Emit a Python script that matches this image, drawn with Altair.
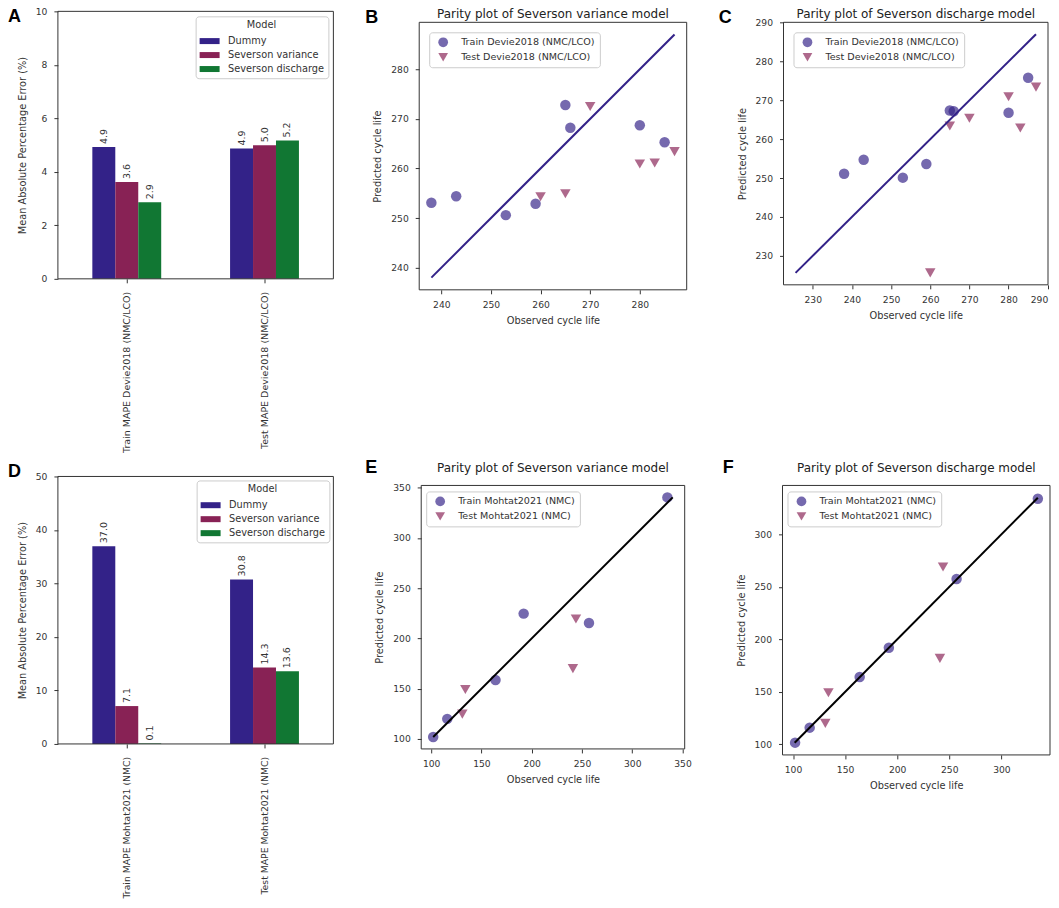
import altair as alt
import pandas as pd

# ---------------- data ----------------
models = ["Dummy", "Severson variance", "Severson discharge"]
model_colors = ["#332288", "#882255", "#117733"]

devie_metrics = ["Train MAPE Devie2018 (NMC/LCO)", "Test MAPE Devie2018 (NMC/LCO)"]
devie_train_mape = [4.93, 3.62, 2.86]
devie_test_mape = [4.87, 4.99, 5.17]

mohtat_metrics = ["Train MAPE Mohtat2021 (NMC)", "Test MAPE Mohtat2021 (NMC)"]
mohtat_train_mape = [36.97, 7.08, 0.1]
mohtat_test_mape = [30.76, 14.28, 13.57]

devie_train_obs = [238, 243, 253, 259, 265, 266, 280, 285]
devie_test_obs = [260, 265, 270, 280, 283, 287]
devie_var_train_pred = [253.1, 254.4, 250.6, 252.9, 272.8, 268.2, 268.7, 265.3]
devie_var_test_pred = [254.3, 254.9, 272.5, 260.9, 261.1, 263.4]
devie_dis_train_pred = [251.1, 254.7, 250.1, 253.6, 267.4, 267.2, 266.8, 275.8]
devie_dis_test_pred = [225.6, 263.4, 265.4, 270.9, 262.9, 273.4]

mohtat_train_obs = [102, 116, 164, 192, 257, 335]
mohtat_test_obs = [131, 134, 241, 244]
mohtat_var_train_pred = [102, 120, 158.7, 224.7, 215.3, 340.3]
mohtat_var_test_pred = [124.7, 149.3, 170, 219.3]
mohtat_dis_train_pred = [101.6, 115.9, 164.1, 192.1, 257.5, 334]
mohtat_dis_test_pred = [120, 149.2, 181.9, 268.9]

ticks_a = [0, 2, 4, 6, 8, 10]
ticks_d = [0, 10, 20, 30, 40, 50]
ticks_b = [240, 250, 260, 270, 280]
ticks_c = [230, 240, 250, 260, 270, 280, 290]
ticks_e = [100, 150, 200, 250, 300, 350]
ticks_f = [100, 150, 200, 250, 300]

title_var = "Parity plot of Severson variance model"
title_dis = "Parity plot of Severson discharge model"

FONT = "DejaVu Sans"
TXT = "#333333"
FRAME = "#333333"
POINT_OPACITY = 0.68


def text_layer(txt, x, y, size, weight, font, color, align):
    return alt.Chart(pd.DataFrame({"t": [txt]})).mark_text(
        font=font, fontWeight=weight, fontSize=size, align=align,
        baseline="alphabetic", color=color
    ).encode(x=alt.value(x), y=alt.value(y), text="t:N")


def letter_layer(letter, x, y):
    return text_layer(letter, x, y, 18, "bold", "Liberation Sans", "black", "left")


def frame_layer(w, h):
    return alt.Chart(pd.DataFrame({"f": [0]})).mark_rect(
        filled=False, stroke=FRAME, strokeWidth=1
    ).encode(x=alt.value(0), x2=alt.value(w), y=alt.value(0), y2=alt.value(h))


def bar_panel(metrics, train, test, ymax, ticks, letter, ly, w, h, legx, legy, lfs):
    df = pd.DataFrame({
        "metric": [metrics[0]] * 3 + [metrics[1]] * 3,
        "model": models * 2,
        "value": train + test,
    })
    base = alt.Chart(df).encode(
        x=alt.X("metric:N", sort=metrics, title=None,
                scale=alt.Scale(paddingInner=0.5, paddingOuter=0.25),
                axis=alt.Axis(labelAngle=270, labelFontSize=lfs, labelPadding=8.5,
                              labelLimit=300)),
        xOffset=alt.XOffset("model:N", sort=models,
                            scale=alt.Scale(paddingInner=0, paddingOuter=0)),
        y=alt.Y("value:Q", scale=alt.Scale(domain=[0, ymax], nice=False, zero=True),
                axis=alt.Axis(values=ticks, title="Mean Absolute Percentage Error (%)",
                              titlePadding=8)),
    )
    bars = base.mark_bar().encode(
        color=alt.Color("model:N", sort=models,
                        scale=alt.Scale(domain=models, range=model_colors),
                        legend=alt.Legend(title="Model", orient="none", legendX=legx,
                                          legendY=legy,
                                          symbolType="M-1.667,-0.5H1.667V0.5H-1.667Z",
                                          symbolSize=144, symbolStrokeWidth=0,
                                          symbolOffset=4,
                                          labelFontSize=9.8, titleFontSize=9.8,
                                          titleAnchor="middle", titleAlign="center",
                                          titlePadding=5, padding=4, rowPadding=3,
                                          labelOffset=12.5,
                                          strokeColor="#cccccc",
                                          fillColor="rgba(255,255,255,0.8)",
                                          cornerRadius=3))
    )
    labels = base.mark_text(angle=270, align="left", baseline="middle", dx=3,
                            fontSize=9.5, color=TXT, font=FONT).encode(
        text=alt.Text("value:Q", format=".1f"))
    return alt.layer(bars, labels, frame_layer(w, h),
                     letter_layer(letter, -50, ly)).properties(width=w, height=h)


def scatter_panel(train_obs, train_pred, test_obs, test_pred, train_name, test_name,
                  title, line_color, ticks, letter, lx, ly, w, h, legx, legy, ty):
    df = pd.DataFrame({
        "observed": train_obs + test_obs,
        "predicted": train_pred + test_pred,
        "series": [train_name] * len(train_obs) + [test_name] * len(test_obs),
    })
    allv = train_obs + train_pred + test_obs + test_pred
    lo, hi = min(allv), max(allv)
    pad = 0.05 * (hi - lo)
    dom = [lo - pad, hi + pad]
    line_df = pd.DataFrame({"v": [lo, hi]})
    xax = alt.Axis(values=ticks, title="Observed cycle life", format="d")
    yax = alt.Axis(values=ticks, title="Predicted cycle life", format="d")
    xs = alt.Scale(domain=dom, nice=False, zero=False)
    ys = alt.Scale(domain=dom, nice=False, zero=False)
    leg = alt.Legend(title=None, orient="none", legendX=legx, legendY=legy,
                     symbolSize=95, symbolOpacity=POINT_OPACITY, symbolStrokeWidth=0,
                     labelFontSize=9.6, padding=5, rowPadding=5, symbolOffset=4,
                     labelOffset=13, strokeColor="#cccccc",
                     fillColor="rgba(255,255,255,0.8)", cornerRadius=3)
    names = [train_name, test_name]
    pts = alt.Chart(df).mark_point(filled=True, opacity=POINT_OPACITY, size=110).encode(
        x=alt.X("observed:Q", scale=xs, axis=xax),
        y=alt.Y("predicted:Q", scale=ys, axis=yax),
        color=alt.Color("series:N", sort=names,
                        scale=alt.Scale(domain=names, range=["#332288", "#882255"]),
                        legend=leg),
        shape=alt.Shape("series:N", sort=names,
                        scale=alt.Scale(domain=names, range=["circle", "triangle-down"]),
                        legend=leg),
    )
    line = alt.Chart(line_df).mark_line(color=line_color, strokeWidth=2).encode(
        x=alt.X("v:Q", scale=xs, axis=xax),
        y=alt.Y("v:Q", scale=ys, axis=yax),
    )
    ttl = text_layer(title, w / 2, ty, 12, "normal", FONT, "#222222", "center")
    return alt.layer(pts, line, frame_layer(w, h), ttl,
                     letter_layer(letter, lx, ly)).properties(width=w, height=h)


A = bar_panel(devie_metrics, devie_train_mape, devie_test_mape, 10, ticks_a, "A",
              10.5, 276, 268, 138, 5, 9.5)
D = bar_panel(mohtat_metrics, mohtat_train_mape, mohtat_test_mape, 50, ticks_d, "D",
              1, 276, 268, 139, 4, 9.3)

B = scatter_panel(devie_train_obs, devie_var_train_pred, devie_test_obs,
                  devie_var_test_pred, "Train Devie2018 (NMC/LCO)",
                  "Test Devie2018 (NMC/LCO)", title_var, "#332288", ticks_b, "B",
                  -54, 0.5, 268, 268, 10, 10, -4.5)
C = scatter_panel(devie_train_obs, devie_dis_train_pred, devie_test_obs,
                  devie_dis_test_pred, "Train Devie2018 (NMC/LCO)",
                  "Test Devie2018 (NMC/LCO)", title_dis, "#332288", ticks_c, "C",
                  -65, 0.5, 265, 263, 10, 10, -4.5)
E = scatter_panel(mohtat_train_obs, mohtat_var_train_pred, mohtat_test_obs,
                  mohtat_var_test_pred, "Train Mohtat2021 (NMC)",
                  "Test Mohtat2021 (NMC)", title_var, "black", ticks_e, "E",
                  -56, -12, 264, 264, 5, 6, -13)
F = scatter_panel(mohtat_train_obs, mohtat_dis_train_pred, mohtat_test_obs,
                  mohtat_dis_test_pred, "Train Mohtat2021 (NMC)",
                  "Test Mohtat2021 (NMC)", title_dis, "black", ticks_f, "F",
                  -60, -12, 268, 270, 5, 6, -13)


def spacer():
    return alt.Chart(pd.DataFrame({"s": [0]})).mark_point(
        opacity=0, size=1, strokeWidth=0).encode(
        x=alt.value(0), y=alt.value(0)).properties(width=1, height=1)


def indep(c):
    return c.resolve_scale(color="independent", shape="independent")


row1 = indep(alt.hconcat(
    A,
    indep(alt.vconcat(spacer(), indep(alt.hconcat(B, C, spacing=31)), spacing=-5)),
    spacing=31))
row2 = indep(alt.hconcat(
    D,
    indep(alt.vconcat(spacer(), indep(alt.hconcat(E, F, spacing=31)), spacing=-18)),
    spacing=31))

chart = indep(alt.vconcat(
    row1, row2, spacing=6,
    padding={"top": -1.5, "left": 0, "right": 0, "bottom": 0}
)).configure_view(
    strokeWidth=0
).configure_axis(
    grid=False, domain=False, ticks=True, tickColor="#333333", tickSize=4, tickWidth=1,
    labelColor="#333333", labelFont=FONT, labelFontSize=9.2, labelPadding=7,
    titleColor="#333333", titleFont=FONT, titleFontSize=9.8, titleFontWeight="normal"
).configure_axisX(titlePadding=5.5).configure_axisY(titlePadding=8).configure_legend(
    labelFont=FONT, labelColor="#333333", titleFont=FONT, titleColor="#333333",
    titleFontWeight="normal"
).configure_text(font=FONT)

chart.save("out.html", embed_options={"renderer": "svg", "actions": False})
